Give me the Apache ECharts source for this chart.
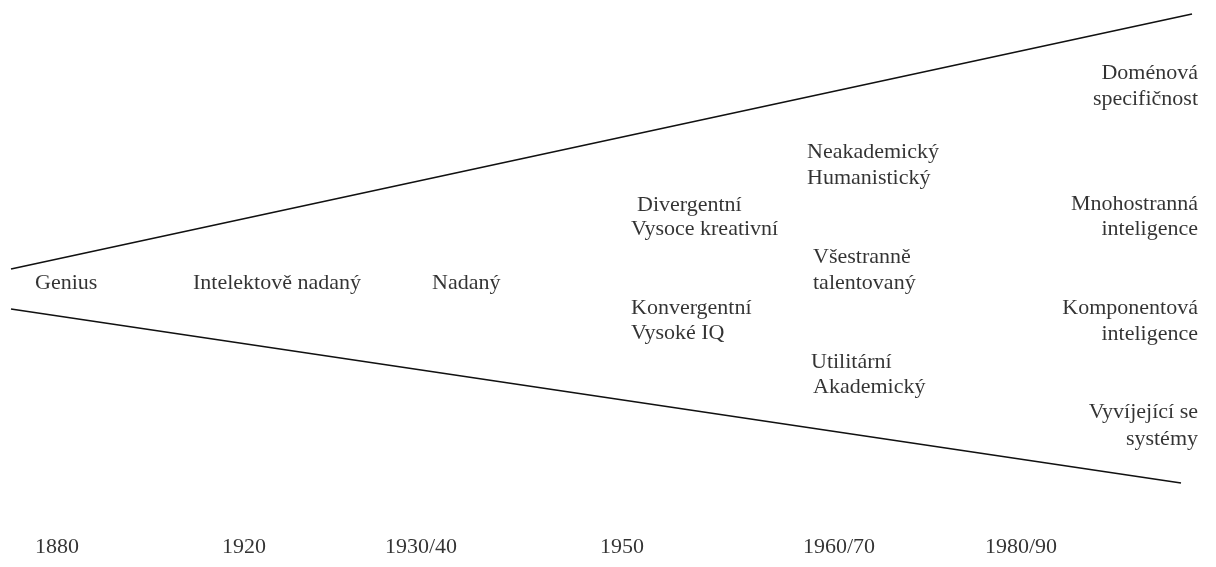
<!DOCTYPE html>
<html>
<head>
<meta charset="utf-8">
<script src="https://cdn.jsdelivr.net/npm/echarts@6/dist/echarts.min.js"></script>
<style>
  html, body { margin: 0; padding: 0; background: #fff; }
  #chart { width: 1216px; height: 567px; }
</style>
</head>
<body>
<div id="chart"></div>
<script>
// funnel edges (x, y in page units)
var topEdge = [[11, 269], [1192, 14]];
var bottomEdge = [[11, 309], [1181, 483]];

// left-aligned labels
var leftTexts = ['Genius', 'Intelektově nadaný', 'Nadaný',
    'Divergentní', 'Vysoce kreativní', 'Konvergentní', 'Vysoké IQ',
    'Neakademický', 'Humanistický', 'Všestranně', 'talentovaný', 'Utilitární', 'Akademický'];
var leftX = [35, 193, 432, 637, 631, 631, 631, 807, 807, 813, 813, 811, 813];
var leftY = [283, 283, 283, 205, 229, 308, 333, 152, 178, 257, 283, 362, 387];

// right-aligned labels (last column)
var rightTexts = ['Doménová', 'specifičnost', 'Mnohostranná', 'inteligence',
    'Komponentová', 'inteligence', 'Vyvíjející se', 'systémy'];
var rightX = [1198, 1198, 1198, 1198, 1198, 1198, 1198, 1198];
var rightY = [73, 99, 204, 229, 308, 334, 412, 439];

// period labels
var years = ['1880', '1920', '1930/40', '1950', '1960/70', '1980/90'];
var yearX = [35, 222, 385, 600, 803, 985];
var yearY = [547, 547, 547, 547, 547, 547];

var textStyle = {
    show: true, distance: 0, formatter: '{b}',
    color: '#000', fontFamily: 'Liberation Serif', fontSize: 22
};

function points(texts, xs, ys) {
    return texts.map(function (t, i) {
        return {value: [xs[i], ys[i]], name: t};
    });
}

var chart = echarts.init(document.getElementById('chart'));
chart.setOption({
    animation: false,
    grid: {left: 0, right: 0, top: 0, bottom: 0},
    xAxis: {type: 'value', min: 0, max: 1216, show: false},
    yAxis: {type: 'value', min: 0, max: 567, inverse: true, show: false},
    series: [
        {
            type: 'line', data: topEdge, symbol: 'none',
            lineStyle: {color: '#111', width: 1.7}
        },
        {
            type: 'line', data: bottomEdge, symbol: 'none',
            lineStyle: {color: '#111', width: 1.7}
        },
        {
            type: 'scatter', symbolSize: 0,
            data: points(leftTexts, leftX, leftY),
            label: Object.assign({position: 'right'}, textStyle)
        },
        {
            type: 'scatter', symbolSize: 0,
            data: points(rightTexts, rightX, rightY),
            label: Object.assign({position: 'left'}, textStyle)
        },
        {
            type: 'scatter', symbolSize: 0,
            data: points(years, yearX, yearY),
            label: Object.assign({position: 'right'}, textStyle)
        }
    ]
});
</script>
</body>
</html>
